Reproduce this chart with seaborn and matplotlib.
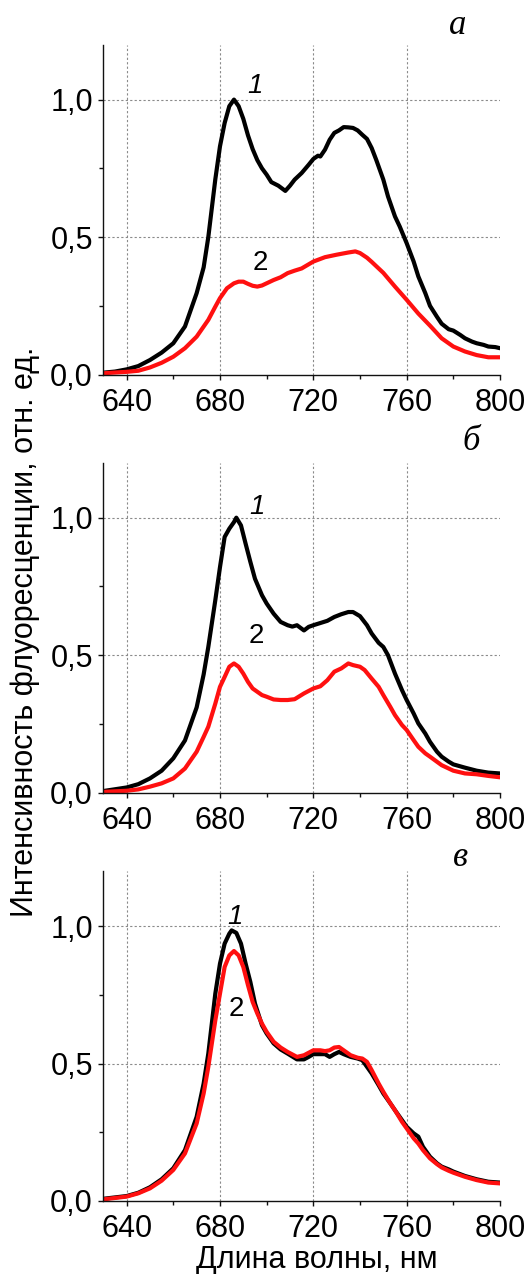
import numpy as np
import pandas as pd
import matplotlib
matplotlib.use("Agg")
import matplotlib.pyplot as plt
import seaborn as sns
from matplotlib.ticker import FixedLocator, FuncFormatter

# ---- spectra: wavelength (nm) and normalised fluorescence intensity ----
# panel а
wl_a1 = [630, 635, 640, 645, 650, 655, 660, 665, 670, 673, 675, 678, 680, 682, 684, 686,
         688, 690, 692, 694, 696, 698, 700, 702, 705, 708, 710, 712, 715, 718, 720, 722,
         723, 725, 727, 729, 731, 733, 735, 737, 739, 741, 743, 745, 747, 750, 752, 755,
         757, 760, 763, 765, 768, 770, 773, 775, 778, 780, 783, 785, 788, 790, 793, 795,
         798, 800]
int_a1 = [0.007, 0.011, 0.019, 0.031, 0.053, 0.080, 0.114, 0.175, 0.296, 0.390, 0.500, 0.710,
          0.830, 0.915, 0.976, 1.000, 0.976, 0.930, 0.870, 0.820, 0.780, 0.750, 0.727, 0.700,
          0.687, 0.668, 0.687, 0.709, 0.733, 0.763, 0.784, 0.796, 0.793, 0.818, 0.854, 0.879,
          0.888, 0.900, 0.899, 0.897, 0.888, 0.872, 0.857, 0.824, 0.780, 0.709, 0.648, 0.575,
          0.539, 0.478, 0.411, 0.357, 0.296, 0.250, 0.210, 0.185, 0.165, 0.160, 0.144, 0.132,
          0.120, 0.114, 0.108, 0.102, 0.100, 0.096]
wl_a2 = [630, 640, 645, 650, 655, 660, 665, 670, 675, 678, 680, 683, 686, 688, 690, 692,
         694, 696, 698, 700, 703, 706, 709, 712, 715, 720, 725, 730, 735, 738, 740, 743,
         745, 750, 755, 760, 765, 770, 775, 780, 785, 790, 795, 800]
int_a2 = [0.005, 0.010, 0.014, 0.026, 0.043, 0.065, 0.096, 0.138, 0.199, 0.247, 0.278, 0.314,
          0.332, 0.338, 0.338, 0.330, 0.323, 0.320, 0.324, 0.332, 0.344, 0.354, 0.369, 0.378,
          0.386, 0.411, 0.427, 0.436, 0.444, 0.448, 0.442, 0.425, 0.410, 0.370, 0.320, 0.272,
          0.222, 0.178, 0.132, 0.102, 0.084, 0.071, 0.063, 0.063]

# panel б
wl_b1 = [630, 640, 645, 650, 655, 660, 665, 670, 673, 675, 678, 680, 682, 684, 686, 687,
         689, 691, 693, 695, 698, 700, 703, 706, 709, 711, 713, 716, 718, 720, 723, 726,
         729, 732, 735, 737, 740, 743, 745, 748, 750, 752, 755, 758, 760, 763, 765, 768,
         770, 773, 775, 778, 780, 785, 790, 795, 800]
int_b1 = [0.006, 0.019, 0.031, 0.052, 0.080, 0.125, 0.190, 0.310, 0.430, 0.530, 0.700, 0.820,
          0.930, 0.960, 0.984, 1.000, 0.972, 0.905, 0.840, 0.778, 0.718, 0.688, 0.651, 0.621,
          0.609, 0.604, 0.609, 0.590, 0.603, 0.609, 0.617, 0.625, 0.639, 0.649, 0.657, 0.657,
          0.642, 0.609, 0.579, 0.545, 0.530, 0.500, 0.433, 0.373, 0.337, 0.288, 0.252, 0.215,
          0.185, 0.149, 0.131, 0.113, 0.103, 0.091, 0.080, 0.073, 0.070]
wl_b2 = [630, 640, 645, 650, 655, 660, 665, 670, 673, 675, 678, 680, 682, 684, 686, 688,
         690, 692, 694, 696, 698, 700, 703, 706, 709, 712, 716, 720, 723, 726, 729, 732,
         735, 737, 740, 742, 745, 748, 750, 753, 755, 758, 760, 763, 765, 768, 770, 775,
         780, 785, 790, 795, 800]
int_b2 = [0.003, 0.007, 0.012, 0.022, 0.034, 0.052, 0.088, 0.149, 0.203, 0.240, 0.324, 0.385,
          0.421, 0.458, 0.470, 0.458, 0.433, 0.403, 0.379, 0.367, 0.355, 0.349, 0.339, 0.337,
          0.337, 0.340, 0.361, 0.379, 0.387, 0.409, 0.440, 0.452, 0.470, 0.464, 0.458, 0.446,
          0.415, 0.385, 0.355, 0.312, 0.282, 0.246, 0.228, 0.191, 0.167, 0.143, 0.131, 0.100,
          0.080, 0.070, 0.067, 0.061, 0.056]

# panel в
wl_c1 = [630, 640, 645, 650, 655, 660, 665, 670, 673, 675, 678, 680, 682, 684, 685, 687,
         689, 691, 693, 695, 698, 700, 703, 706, 709, 713, 716, 718, 720, 723, 725, 727,
         729, 731, 733, 736, 739, 741, 743, 745, 748, 750, 753, 755, 758, 760, 763, 765,
         767, 770, 773, 775, 778, 780, 785, 790, 795, 800]
int_c1 = [0.008, 0.018, 0.030, 0.050, 0.079, 0.119, 0.185, 0.306, 0.427, 0.536, 0.754, 0.863,
          0.936, 0.972, 0.984, 0.975, 0.936, 0.863, 0.797, 0.718, 0.639, 0.609, 0.573, 0.551,
          0.536, 0.515, 0.515, 0.524, 0.534, 0.534, 0.534, 0.524, 0.534, 0.542, 0.534, 0.524,
          0.518, 0.512, 0.488, 0.464, 0.421, 0.391, 0.355, 0.330, 0.294, 0.270, 0.246, 0.234,
          0.197, 0.161, 0.137, 0.125, 0.115, 0.107, 0.091, 0.079, 0.070, 0.067]
wl_c2 = [630, 640, 645, 650, 655, 660, 665, 670, 673, 675, 678, 680, 682, 684, 686, 688,
         690, 692, 694, 696, 698, 700, 703, 706, 709, 713, 716, 718, 720, 723, 725, 727,
         729, 731, 733, 736, 739, 741, 743, 745, 748, 750, 753, 755, 758, 760, 763, 765,
         767, 770, 773, 775, 778, 780, 785, 790, 795, 800]
int_c2 = [0.006, 0.016, 0.028, 0.046, 0.074, 0.113, 0.173, 0.282, 0.391, 0.488, 0.657, 0.754,
          0.851, 0.893, 0.909, 0.893, 0.851, 0.785, 0.724, 0.682, 0.645, 0.615, 0.579, 0.558,
          0.542, 0.524, 0.530, 0.539, 0.548, 0.548, 0.545, 0.548, 0.558, 0.560, 0.548, 0.530,
          0.521, 0.518, 0.506, 0.476, 0.427, 0.397, 0.355, 0.330, 0.288, 0.264, 0.228, 0.209,
          0.185, 0.155, 0.134, 0.122, 0.110, 0.103, 0.088, 0.076, 0.067, 0.064]

panel_letters = ["а", "б", "в"]
x_ticks = [640, 680, 720, 760, 800]
x_minor = [660, 700, 740, 780]
y_ticks = [0.0, 0.5, 1.0]
y_minor = [0.25, 0.75]
x_label = "Длина волны, нм"
y_label = "Интенсивность флуоресценции, отн. ед."
curve_names = ["1", "2"]

# label anchor points (wavelength, intensity) for curve numbers in each panel
label_pos = [
    [(695.0, 1.05), (697.2, 0.405)],
    [(695.7, 1.04), (695.4, 0.569)],
    [(686.5, 1.032), (686.9, 0.697)],
]

panels = [
    ((wl_a1, int_a1), (wl_a2, int_a2)),
    ((wl_b1, int_b1), (wl_b2, int_b2)),
    ((wl_c1, int_c1), (wl_c2, int_c2)),
]

sns.set_style("ticks")
plt.rcParams["font.family"] = ["Liberation Sans", "DejaVu Sans"]
plt.rcParams["text.color"] = "black"
plt.rcParams["xtick.color"] = "black"
plt.rcParams["ytick.color"] = "black"

W, H = 528, 1274
fig = plt.figure(figsize=(W / 100, H / 100), dpi=100)

left = 103.3 / W
width = (500.0 - 103.3) / W
bottoms_px = [374.6, 792.7, 1201.0]
height = 330.0 / H

palette = {"1": "#000000", "2": "#ff1010"}
comma = FuncFormatter(lambda v, p: f"{v:.1f}".replace(".", ","))

for i, (series, bpx) in enumerate(zip(panels, bottoms_px)):
    ax = fig.add_axes([left, 1 - bpx / H, width, height])
    frames = []
    for name, (wl, iv) in zip(curve_names, series):
        frames.append(pd.DataFrame({"wl": wl, "I": iv, "curve": name}))
    df = pd.concat(frames, ignore_index=True)
    sns.lineplot(data=df, x="wl", y="I", hue="curve", palette=palette,
                 estimator=None, sort=True, linewidth=3.0, legend=False, ax=ax,
                 hue_order=curve_names)
    ax.set_xlim(630, 800)
    ax.set_ylim(0, 1.2)
    ax.xaxis.set_major_locator(FixedLocator(x_ticks))
    ax.xaxis.set_minor_locator(FixedLocator(x_minor))
    ax.yaxis.set_major_locator(FixedLocator(y_ticks))
    ax.yaxis.set_minor_locator(FixedLocator(y_minor))
    ax.yaxis.set_major_formatter(comma)
    ax.set_xlabel("")
    ax.set_ylabel("")
    for s in ("top", "right"):
        ax.spines[s].set_visible(False)
    for s in ("left", "bottom"):
        ax.spines[s].set_linewidth(1.0)
        ax.spines[s].set_color("#111111")
    ax.tick_params(axis="both", which="major", direction="out", length=3.5,
                   width=1.0, labelsize=22, pad=4, colors="#111111", labelcolor="black")
    ax.tick_params(axis="both", which="minor", direction="out", length=3.0,
                   width=1.0, colors="#111111")
    ax.tick_params(axis="x", which="major", pad=6)
    # dotted grid at interior major ticks
    for xv in x_ticks[:-1]:
        ax.axvline(xv, color="#8a8a8a", lw=0.8, ls=(0, (2, 2)), zorder=0)
    for yv in y_ticks[1:]:
        ax.axhline(yv, color="#8a8a8a", lw=0.8, ls=(0, (2, 2)), zorder=0)
    (p1, p2) = label_pos[i]
    ax.text(p1[0], p1[1], curve_names[0], fontsize=20, style="italic",
            color="black", ha="center", va="center")
    ax.text(p2[0], p2[1], curve_names[1], fontsize=20, color="black",
            ha="center", va="center")

letter_pos = [(458, 25), (471, 441), (461, 858)]
for letter, (px, py) in zip(panel_letters, letter_pos):
    fig.text(px / W, 1 - py / H, letter, fontsize=25, style="italic",
             family=["Liberation Serif", "DejaVu Serif"], ha="center", va="center")

fig.text(25 / W, 1 - 632 / H, y_label, rotation=90, fontsize=22,
         ha="center", va="center")
fig.text(317 / W, 1 - 1268 / H, x_label, fontsize=22, ha="center", va="baseline")

fig.savefig("out.png", dpi=100)
